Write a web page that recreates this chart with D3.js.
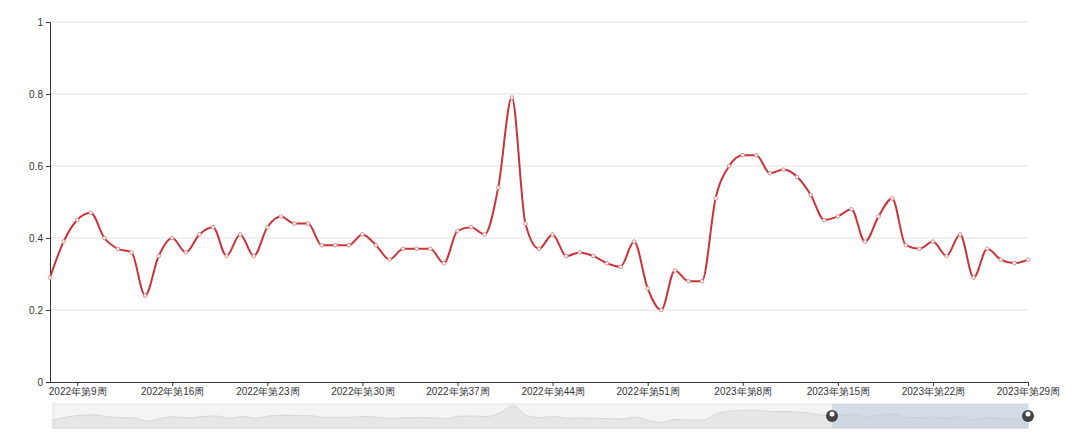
<!DOCTYPE html>
<html>
<head>
<meta charset="utf-8">
<script src="https://cdn.jsdelivr.net/npm/d3@7"></script>
<style>
  body { margin: 0; background: #fff; font-family: "Noto Sans CJK SC", "Noto Sans", sans-serif; }
</style>
</head>
<body>
<svg id="chart" width="1080" height="432"></svg>
<script>
"use strict";

// weeks: 2022 w7..w52, then 2023 w3..w29
const weeks2022 = d3.range(7, 53).map(w => `2022年第${w}周`);
const weeks2023 = d3.range(3, 30).map(w => `2023年第${w}周`);
const categories = weeks2022.concat(weeks2023);

const values = [
  0.29, 0.39, 0.45, 0.47, 0.40, 0.37, 0.36, 0.24, 0.35, 0.40,
  0.36, 0.41, 0.43, 0.35, 0.41, 0.35, 0.43, 0.46, 0.44, 0.44,
  0.38, 0.38, 0.38, 0.41, 0.38, 0.34, 0.37, 0.37, 0.37, 0.33,
  0.42, 0.43, 0.41, 0.54, 0.79, 0.44, 0.37, 0.41, 0.35, 0.36,
  0.35, 0.33, 0.32, 0.39, 0.26, 0.20, 0.31, 0.28, 0.28, 0.51,
  0.60, 0.63, 0.63, 0.58, 0.59, 0.57, 0.52, 0.45, 0.46, 0.48,
  0.39, 0.46, 0.51, 0.38, 0.37, 0.39, 0.35, 0.41, 0.29, 0.37,
  0.34, 0.33, 0.34
];

const yTicks = [0, 0.2, 0.4, 0.6, 0.8, 1];

const margin = { left: 50, right: 52, top: 22, plotBottom: 382 };
const svg = d3.select("#chart");

const x = d3.scalePoint().domain(categories).range([margin.left, 1080 - margin.right]);
const y = d3.scaleLinear().domain([0, 1]).range([margin.plotBottom, margin.top]);

// grid
svg.append("g").selectAll("line").data(yTicks.filter(t => t > 0)).enter().append("line")
  .attr("x1", margin.left).attr("x2", 1080 - margin.right)
  .attr("y1", d => y(d)).attr("y2", d => y(d))
  .attr("stroke", "#e0e0e0");

// y axis
let yAxis = svg.append("g").attr("transform", `translate(${margin.left},0)`)
  .call(d3.axisLeft(y).tickValues(yTicks).tickFormat(d => d).tickSize(4));
yAxis.select(".domain").attr("stroke", "#333");
yAxis.selectAll("line").attr("stroke", "#333");
yAxis.selectAll("text").attr("fill", "#333").style("font-size", "10px");

// x axis
let shown = categories.filter((c, i) => (i - 2) % 7 === 0);
let xAxis = svg.append("g").attr("transform", `translate(0,${margin.plotBottom})`)
  .call(d3.axisBottom(x).tickValues(shown).tickSize(4).tickSizeOuter(0));
xAxis.select(".domain").attr("stroke", "#333");
xAxis.selectAll("line").attr("stroke", "#333");
xAxis.selectAll("text").attr("fill", "#333").style("font-size", "10px").attr("dy", "0.6em");

// line
const line = d3.line().x((d, i) => x(categories[i])).y(d => y(d)).curve(d3.curveMonotoneX);
svg.append("path").datum(values)
  .attr("d", line).attr("fill", "none")
  .attr("stroke", "#c9343a").attr("stroke-width", 2);

svg.append("g").selectAll("circle").data(values).enter().append("circle")
  .attr("cx", (d, i) => x(categories[i])).attr("cy", d => y(d))
  .attr("r", 1.8).attr("fill", "#fff").attr("stroke", "#d98a8d").attr("stroke-width", 1);

// data zoom slider
const zx = d3.scalePoint().domain(categories).range([53, 1028]);
const zy = d3.scaleLinear().domain([0, 1]).range([428, 400]);
svg.append("rect").attr("x", 53).attr("y", 404).attr("width", 975).attr("height", 24)
  .attr("fill", "#f4f4f4").attr("stroke", "#e4e4e4");
const area = d3.area().x((d, i) => zx(categories[i])).y0(428).y1(d => zy(d)).curve(d3.curveMonotoneX);
svg.append("path").datum(values).attr("d", area).attr("fill", "#e6e6e6").attr("stroke", "#d6d6d6");

const selStart = 832;
svg.append("rect").attr("x", selStart).attr("y", 404).attr("width", 1028 - selStart).attr("height", 24)
  .attr("fill", "#b8c8dc").attr("opacity", 0.55);
[selStart, 1028].forEach(hx => {
  svg.append("circle").attr("cx", hx).attr("cy", 416).attr("r", 6).attr("fill", "#444");
  svg.append("circle").attr("cx", hx).attr("cy", 414).attr("r", 2.5).attr("fill", "#fff");
});
</script>
</body>
</html>
